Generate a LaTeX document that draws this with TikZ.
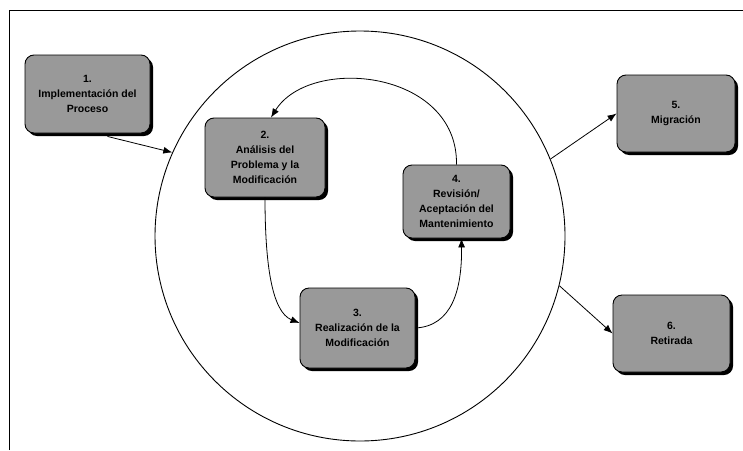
\documentclass[tikz,border=0pt]{standalone}
\usepackage{fontspec}
\setmainfont{Liberation Sans}
\usetikzlibrary{arrows.meta,shadows,calc}
\tikzset{
  phase/.style={draw=black, line width=0.9pt, rounded corners=9pt, fill=black!40,
    drop shadow={shadow xshift=3pt, shadow yshift=-3pt, fill=black, opacity=1},
    align=center, font=\bfseries\fontsize{10.5}{15}\selectfont, inner sep=2pt},
  conn/.style={line width=0.8pt, -{Latex[length=9pt,width=7pt]}},
}
\begin{document}
\begin{tikzpicture}[x=1pt,y=1pt]
\useasboundingbox (0,0) rectangle (743,-450);
% frame
\draw[line width=0.9pt] (9,-450) -- (9,-10) -- (743,-10);
% ring
\node[circle, draw, line width=0.9pt, minimum size=410pt, inner sep=0pt] (ring) at (360,-236) {};
% boxes
\node[phase, minimum width=125pt, minimum height=78pt] (b1) at (87.5,-94) {1.\\Implementación del\\Proceso};
\node[phase, minimum width=120pt, minimum height=79pt] (b2) at (265,-157.5) {2.\\Análisis del\\Problema y la\\Modificación};
\node[phase, minimum width=115pt, minimum height=80pt] (b3) at (357.5,-328) {3.\\Realización de la\\Modificación};
\node[phase, minimum width=107pt, minimum height=73pt] (b4) at (456.5,-201.5) {4.\\Revisión/\\Aceptación del\\Mantenimiento};
\node[phase, minimum width=118pt, minimum height=77pt] (b5) at (676,-113.5) {5.\\Migración};
\node[phase, minimum width=117pt, minimum height=77pt] (b6) at (671.5,-333.5) {6.\\Retirada};
% connectors
\draw[conn] ($(b1.south)+(20,-3)$) -- (ring.156.7);
\draw[conn] (b4.north) .. controls (458,-70) and (310,-55) .. ($(b2.north)+(6,0)$);
\draw[conn] (b2.south) .. controls (265,-265) and (272,-312) .. ($(b3.west)+(0,5)$);
\draw[conn] (b3.east) .. controls (452,-326) and (462,-290) .. ($(b4.south)+(5,0)$);
\draw[conn] (ring.22.5) -- (b5.west);
\draw[conn] (ring.-14.2) -- (b6.west);
\end{tikzpicture}
\end{document}
